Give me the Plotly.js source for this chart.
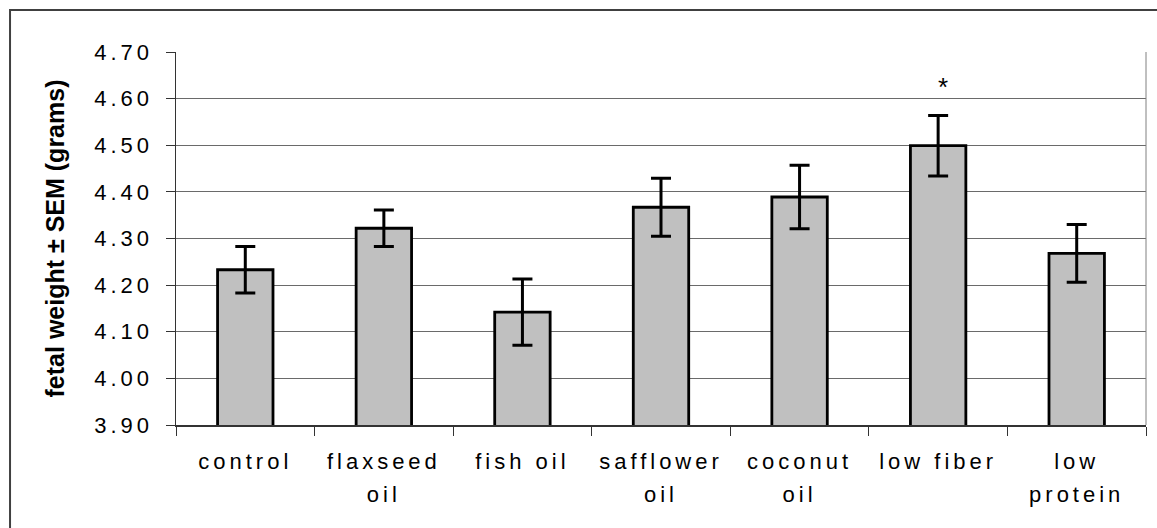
<!DOCTYPE html>
<html>
<head>
<meta charset="utf-8">
<script src="https://cdn.plot.ly/plotly-3.0.1.min.js"></script>
<style>
  html, body { margin: 0; padding: 0; background: #ffffff; }
  #chart { width: 1157px; height: 528px; }
  .xtick text, .ytick text { letter-spacing: 4px; }
  .xtick tspan.line + tspan.line { baseline-shift: -4.4px; }
</style>
</head>
<body>
<div id="chart"></div>
<script>
// Data
var categories = ["control", "flaxseed<br>oil", "fish oil", "safflower<br>oil", "coconut<br>oil", "low fiber", "low<br>protein"];
var fetalWeight = [4.233, 4.322, 4.142, 4.367, 4.389, 4.499, 4.268];
var sem = [0.050, 0.039, 0.071, 0.062, 0.068, 0.065, 0.062];
var yTickValues = [3.90, 4.00, 4.10, 4.20, 4.30, 4.40, 4.50, 4.60, 4.70];
var significantCategory = "low fiber";
var significanceMark = "*";
var significanceLevel = 4.625;

var FONT = "Liberation Sans, Arial, sans-serif";

var trace = {
  type: "bar",
  x: categories,
  y: fetalWeight,
  marker: { color: "#c0c0c0", line: { color: "#000000", width: 2.8 } },
  error_y: { type: "data", array: sem, visible: true, color: "#000000", thickness: 3, width: 10 },
  hoverinfo: "x+y"
};

var layout = {
  width: 1157,
  height: 528,
  margin: { l: 176, r: 11, t: 52, b: 103, pad: 0 },
  paper_bgcolor: "#ffffff",
  plot_bgcolor: "#ffffff",
  showlegend: false,
  bargap: 0.6,
  font: { family: FONT, color: "#000000", size: 22 },
  xaxis: {
    type: "category",
    tickson: "boundaries",
    ticks: "outside",
    ticklen: 9,
    tickwidth: 1,
    tickcolor: "#333333",
    ticklabelstandoff: 16,
    showgrid: false,
    showline: true,
    linecolor: "#333333",
    linewidth: 1.5,
    tickfont: { family: FONT, size: 22, color: "#000000" },
    fixedrange: true
  },
  yaxis: {
    range: [3.9, 4.7],
    tickmode: "array",
    tickvals: yTickValues,
    tickformat: ".2f",
    ticks: "outside",
    ticklen: 9,
    tickwidth: 1,
    tickcolor: "#333333",
    ticklabelstandoff: 8,
    showgrid: true,
    gridcolor: "#6a6a6a",
    gridwidth: 1,
    zeroline: false,
    showline: true,
    linecolor: "#333333",
    linewidth: 1.5,
    tickfont: { family: FONT, size: 22, color: "#000000" },
    title: { text: "fetal weight ± SEM (grams)", font: { family: FONT, size: 25, color: "#000000", weight: "bold" }, standoff: 22 },
    fixedrange: true
  },
  shapes: [
    { type: "line", xref: "paper", yref: "paper", x0: 1, x1: 1, y0: 0, y1: 1, line: { color: "#808080", width: 1 } },
    { type: "rect", xref: "paper", yref: "paper", x0: -0.1711, x1: 1.05, y0: -0.5, y1: 1.1126, line: { color: "#404040", width: 2 }, fillcolor: "rgba(0,0,0,0)", layer: "below" }
  ],
  annotations: [
    { x: significantCategory, y: significanceLevel, xref: "x", yref: "y", text: significanceMark, showarrow: false, font: { family: FONT, size: 26, color: "#000000" }, xshift: 5 }
  ]
};

Plotly.newPlot("chart", [trace], layout, { displayModeBar: false, staticPlot: true });
</script>
</body>
</html>
